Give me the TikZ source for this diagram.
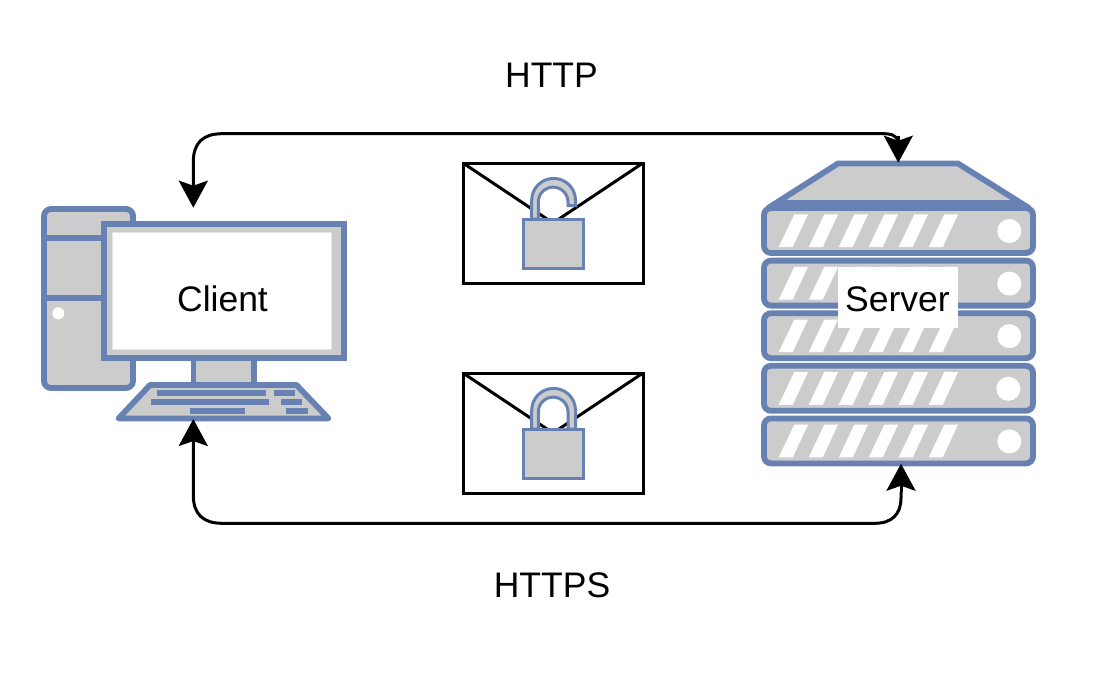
\documentclass[tikz,border=0pt]{standalone}
\usepackage{fontspec}
\setmainfont{Liberation Sans}
\usetikzlibrary{arrows.meta}
\definecolor{stk}{HTML}{6881B3}
\definecolor{gry}{HTML}{CCCCCC}
\tikzset{
  part/.style={draw=stk,fill=gry,line width=5.8pt,miter limit=10},
  key/.style={fill=stk,draw=none},
  stripe/.style={fill=white,draw=none},
  knob/.style={fill=white,draw=none},
  env/.style={draw=black,fill=white,line width=3pt},
  flap/.style={draw=black,line width=3pt},
  lockp/.style={draw=stk,fill=gry,line width=3pt},
  link/.style={draw=black,line width=3pt},
  tipstart/.style={{Stealth[length=27pt,width=29pt,inset=5pt]}-},
  tipend/.style={-{Stealth[length=27pt,width=29pt,inset=5pt]}},
  lab/.style={font=\fontsize{35.5}{40}\selectfont,text=black,inner sep=0pt},
}
\begin{document}
\begin{tikzpicture}[x=1pt,y=-1pt]
\useasboundingbox (0,0) rectangle (1119,696);
% client tower
\draw[part,rounded corners=7pt] (44,209) rectangle (133,388);
\draw[part,fill=none] (44,238) -- (133,238);
\draw[part,fill=none] (44,298) -- (133,298);
\fill[knob] (58.3,313.3) circle (6);
% stand
\draw[part] (193.5,358) rectangle (254,385);
% monitor
\draw[part] (104,224) rectangle (344,358);
\draw[draw=gray!20,fill=white,line width=1pt] (112.5,232.5) rectangle (331.5,349.5);
% keyboard
\draw[part,line join=round] (150,385) -- (296.5,385) -- (328.5,418.5) -- (118.5,418.5) -- cycle;
\fill[key] (157,390) rectangle (266,396);
\fill[key] (274,390) rectangle (295,396);
\fill[key] (151,399) rectangle (269,405);
\fill[key] (281,399) rectangle (302,405);
\fill[key] (190,408) rectangle (245,414);
\fill[key] (286,408) rectangle (308,414);
\node[lab] (client) at (222.5,299) {Client};
% server
\draw[part] (776,203) -- (838,163.5) -- (958,163.5) -- (1021,203) -- cycle;
\foreach \t/\dx in {208/0,260.6/0,313.2/0,365.8/-1,418.4/0}{
  \draw[part,rounded corners=7pt] (764,\t) rectangle (1033,\t+45);
  \foreach \s in {0,30,60,90,120,150}{
    \fill[stripe] (778.7+\s,\t+39) -- (792.7+\s,\t+39) -- (808+\s,\t+6.3) -- (794.3+\s,\t+6.3) -- cycle;
  }
  \fill[knob] (1009.3+\dx,\t+23) circle (12);
}
\node[lab,fill=white,minimum width=120pt,minimum height=61.6pt] (server) at (898.3,297.5) {};
\node[lab] (serverlabel) at (897.5,299) {Server};
% envelopes
\foreach \o/\n in {0/a,210/b}{
  \draw[env] (463,163+\o) rectangle (643,283+\o);
  \draw[flap] (463,163+\o) -- (553,223+\o) -- (643,163+\o);
}
% open lock
\draw[lockp] (531.7,219) -- (531.7,200.3) arc[start angle=180,end angle=360,radius=21.9] -- (575.5,205.5) -- (568,205.5) -- (568,202) arc[start angle=0,end angle=-180,radius=14.85] -- (538.3,219) -- cycle;
\draw[lockp] (523.5,219) rectangle (583,268);
% closed lock
\draw[lockp] (531.7,429) -- (531.7,410.3) arc[start angle=180,end angle=360,radius=21.9] -- (575.5,429) -- (568,429) -- (568,412) arc[start angle=0,end angle=-180,radius=14.85] -- (538.3,429) -- cycle;
\draw[lockp] (523.5,429) rectangle (583,478);
% connectors
\coordinate (ca) at (193.3,207.7);
\coordinate (sa) at (898.3,162.7);
\coordinate (sabend) at (898.3,135.7);
\coordinate (cb) at (193.3,419);
\coordinate (sb) at (901,463.7);
\draw[link,tipstart] (ca) -- (193.3,162) .. controls (193.3,143) and (203,133.7) .. (222,133.7) -- (882,133.7) .. controls (890,133.7) and (896,134) .. (898.3,142);
\draw[link,tipend] (sabend) -- (sa);
\draw[link,tipstart] (cb) -- (193.3,495) .. controls (193.3,514) and (203,523.3) .. (222,523.3) -- (875,523.3) .. controls (892,523.3) and (901,514) .. (901,498) -- (901,492);
\draw[link,tipend] (901,492) -- (sb);
\node[lab] (http) at (551.5,75) {HTTP};
\node[lab] (https) at (552,585) {HTTPS};
\end{tikzpicture}
\end{document}
